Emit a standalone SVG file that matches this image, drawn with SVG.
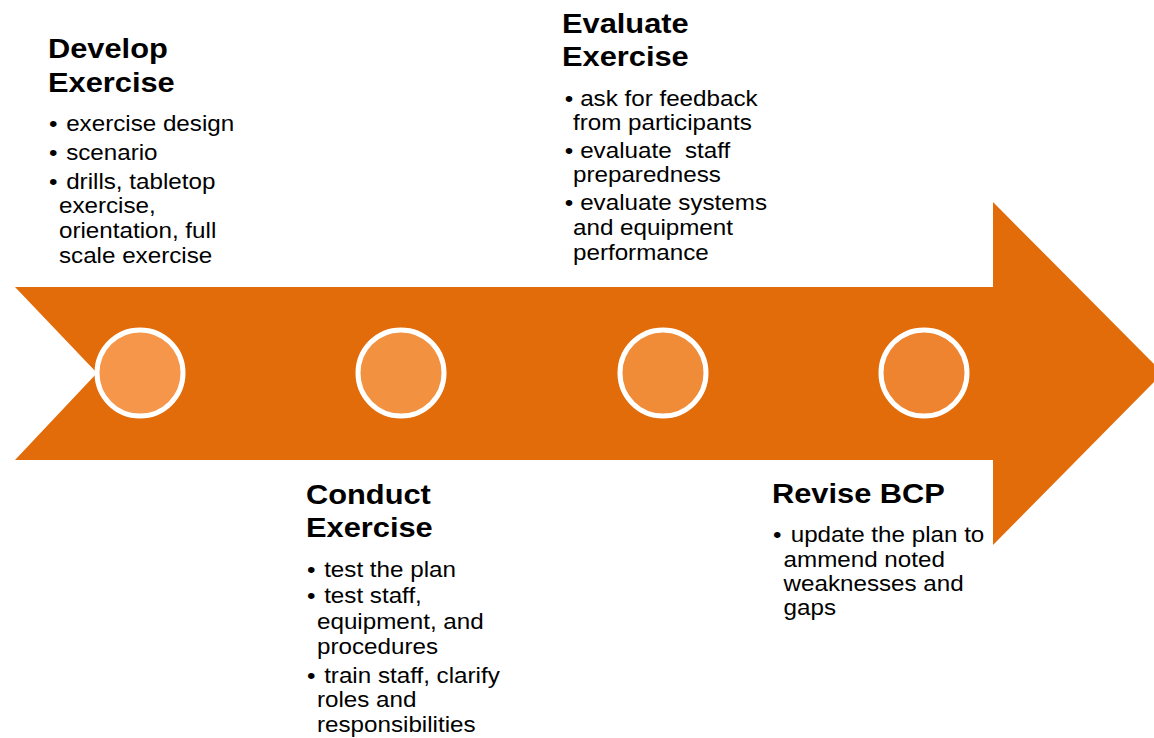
<svg xmlns="http://www.w3.org/2000/svg" width="1154" height="738" viewBox="0 0 1154 738">
<style>
.h{font-family:"Liberation Sans",Arial,sans-serif;font-weight:bold;font-size:28px;fill:#000}
.t{font-family:"Liberation Sans",Arial,sans-serif;font-size:22px;fill:#000}
.ring{stroke:#fff;stroke-width:5}
</style>
<rect width="1154" height="738" fill="#fff"/>
<g id="arrow">
<polygon points="15,287 993,287 993,202 1163,373 993,545 993,460 15,460 97,373" fill="#E36C0A"/>
</g>
<g id="circles">
<circle class="ring" cx="140" cy="373" r="43" fill="#F5964A"/>
<circle class="ring" cx="401" cy="373" r="43" fill="#F29240"/>
<circle class="ring" cx="663" cy="373" r="43" fill="#F08B38"/>
<circle class="ring" cx="924" cy="373" r="43" fill="#EE8430"/>
</g>
<g id="develop" transform="translate(48,0) scale(1.1,1)">
<text class="h" x="0" y="58">Develop</text>
<text class="h" x="0" y="92">Exercise</text>
<text class="t" x="1" y="131">•</text><text class="t" x="16.5" y="131">exercise design</text>
<text class="t" x="1" y="160">•</text><text class="t" x="16.5" y="160">scenario</text>
<text class="t" x="1" y="189">•</text><text class="t" x="16.5" y="189">drills, tabletop</text>
<text class="t" x="10" y="213">exercise,</text>
<text class="t" x="10" y="238">orientation, full</text>
<text class="t" x="10" y="263">scale exercise</text>
</g>
<g id="evaluate" transform="translate(562,0) scale(1.1,1)">
<text class="h" x="0" y="33">Evaluate</text>
<text class="h" x="0" y="66">Exercise</text>
<text class="t" x="2.5" y="106">•</text><text class="t" x="16.5" y="106">ask for feedback</text>
<text class="t" x="10" y="130">from participants</text>
<text class="t" x="2.5" y="158">•</text><text class="t" x="16.5" y="158" xml:space="preserve">evaluate  staff</text>
<text class="t" x="10" y="182">preparedness</text>
<text class="t" x="2.5" y="210">•</text><text class="t" x="16.5" y="210">evaluate systems</text>
<text class="t" x="10" y="235">and equipment</text>
<text class="t" x="10" y="260">performance</text>
</g>
<g id="conduct" transform="translate(306,0) scale(1.1,1)">
<text class="h" x="0" y="504">Conduct</text>
<text class="h" x="0" y="537">Exercise</text>
<text class="t" x="1" y="577">•</text><text class="t" x="16.5" y="577">test the plan</text>
<text class="t" x="1" y="603">•</text><text class="t" x="16.5" y="603">test staff,</text>
<text class="t" x="10" y="629">equipment, and</text>
<text class="t" x="10" y="654">procedures</text>
<text class="t" x="1" y="683">•</text><text class="t" x="16.5" y="683">train staff, clarify</text>
<text class="t" x="10" y="707">roles and</text>
<text class="t" x="10" y="732">responsibilities</text>
</g>
<g id="revise" transform="translate(772,0) scale(1.1,1)">
<text class="h" x="0" y="503">Revise BCP</text>
<text class="t" x="1" y="542">•</text><text class="t" x="17" y="542">update the plan to</text>
<text class="t" x="10.5" y="567">ammend noted</text>
<text class="t" x="10.5" y="591">weaknesses and</text>
<text class="t" x="10.5" y="615">gaps</text>
</g>
</svg>
